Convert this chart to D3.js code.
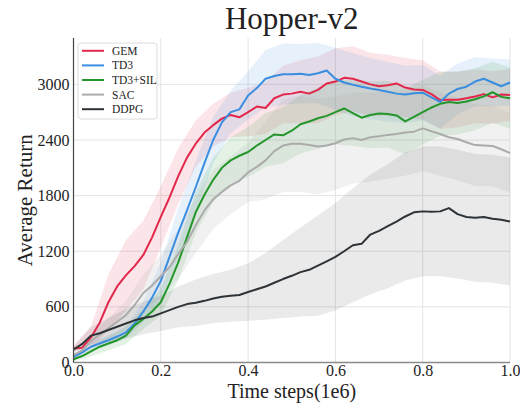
<!DOCTYPE html>
<html>
<head>
<meta charset="utf-8">
<script src="https://cdn.jsdelivr.net/npm/d3@7"></script>
<style>
  body { margin: 0; background: #fff; }
  svg text { font-family: "Liberation Serif", "Times New Roman", serif; fill: #222; }
</style>
</head>
<body>
<svg id="chart" width="520" height="403"></svg>
<script>
// time steps (1e6) of the mean curves
const timeSteps = [0.00, 0.02, 0.04, 0.06, 0.08, 0.10, 0.12, 0.14, 0.16, 0.18,
    0.20, 0.22, 0.24, 0.26, 0.28, 0.30, 0.32, 0.34, 0.36, 0.38,
    0.40, 0.42, 0.44, 0.46, 0.48, 0.50, 0.52, 0.54, 0.56, 0.58,
    0.60, 0.62, 0.64, 0.66, 0.68, 0.70, 0.72, 0.74, 0.76, 0.78,
    0.80, 0.82, 0.84, 0.86, 0.88, 0.90, 0.92, 0.94, 0.96, 0.98, 1.00];

const gem = [150, 160, 270, 430, 650, 820, 940, 1040, 1160, 1350,
    1570, 1780, 2010, 2210, 2360, 2480, 2560, 2630, 2670, 2645,
    2700, 2760, 2745, 2850, 2890, 2900, 2920, 2900, 2940, 3010,
    3030, 3070, 3060, 3030, 3000, 2980, 2990, 3010, 2965, 2945,
    2940, 2895, 2830, 2835, 2835, 2850, 2870, 2895, 2860, 2890, 2885];

const td3 = [60, 110, 170, 205, 240, 280, 325, 420, 550, 700,
    880, 1140, 1400, 1640, 1890, 2150, 2400, 2590, 2700, 2730,
    2880, 2960, 3060, 3090, 3110, 3110, 3115, 3100, 3120, 3150,
    3060, 3020, 2995, 2975, 2955, 2940, 2920, 2900, 2890, 2905,
    2910, 2860, 2810, 2900, 2950, 2975, 3030, 3060, 3020, 2980, 3020];

const td3Sil = [35, 70, 120, 170, 205, 240, 290, 400, 470, 550,
    650, 850, 1080, 1350, 1620, 1810, 1970, 2100, 2180, 2230,
    2270, 2340, 2400, 2460, 2450, 2500, 2570, 2600, 2635, 2660,
    2700, 2740, 2690, 2640, 2670, 2685, 2680, 2665, 2600, 2650,
    2700, 2750, 2790, 2810, 2800, 2815, 2840, 2870, 2915, 2865, 2850];

const sac = [80, 130, 230, 300, 370, 440, 510, 620, 750, 830,
    930, 1030, 1170, 1300, 1480, 1640, 1760, 1840, 1910, 1960,
    2050, 2110, 2180, 2280, 2340, 2360, 2360, 2345, 2330, 2340,
    2365, 2405, 2420, 2400, 2430, 2440, 2455, 2465, 2480, 2490,
    2525, 2495, 2465, 2430, 2410, 2375, 2345, 2340, 2335, 2300, 2260];

const ddpg = [140, 200, 290, 315, 350, 385, 420, 455, 480, 495,
    530, 565, 600, 630, 645, 665, 690, 710, 720, 728,
    760, 790, 820, 860, 900, 935, 975, 1000, 1045, 1090,
    1140, 1200, 1265, 1280, 1380, 1420, 1470, 1520, 1575, 1620,
    1630, 1625, 1630, 1665, 1600, 1570, 1560, 1570, 1550, 1540, 1520];

// spread of the shaded bands, one value per second time step
const gemStd = [30, 120, 300, 380, 370, 330, 300, 250, 230, 240, 260, 280, 310,
    340, 360, 360, 350, 340, 330, 320, 320, 310, 300, 290, 285, 280];
const td3Std = [20, 45, 55, 65, 110, 200, 270, 280, 250, 230, 260, 310, 330,
    320, 325, 335, 340, 330, 320, 310, 300, 285, 275, 265, 255, 250];
const td3SilStd = [20, 55, 75, 90, 110, 140, 190, 220, 240, 250, 270, 290, 300,
    315, 330, 345, 355, 360, 360, 355, 350, 345, 340, 335, 330, 330];
const sacStd = [30, 70, 110, 150, 200, 230, 270, 300, 320, 310, 320, 420, 500,
    520, 515, 505, 490, 480, 470, 465, 460, 450, 445, 440, 435, 430];
const ddpgStd = [30, 90, 130, 160, 175, 190, 220, 250, 265, 280, 310, 360, 420,
    480, 540, 580, 615, 645, 670, 690, 700, 700, 695, 690, 690, 690];

const seriesNames = ['GEM', 'TD3', 'TD3+SIL', 'SAC', 'DDPG'];
const seriesColors = ['#e2274b', '#3a8ee0', '#24962b', '#ababab', '#2e3337'];
const bandOpacity = [0.12, 0.12, 0.12, 0.16, 0.1];
const xTicks = [0.0, 0.2, 0.4, 0.6, 0.8, 1.0];
const yTicks = [0, 600, 1200, 1800, 2400, 3000];

const series = [
    { name: seriesNames[0], mean: gem, std: gemStd },
    { name: seriesNames[1], mean: td3, std: td3Std },
    { name: seriesNames[2], mean: td3Sil, std: td3SilStd },
    { name: seriesNames[3], mean: sac, std: sacStd },
    { name: seriesNames[4], mean: ddpg, std: ddpgStd }
];

const svg = d3.select('#chart');

const x = d3.scaleLinear().domain([0, 1]).range([73.5, 510]);
const y = d3.scaleLinear().domain([0, 3500]).range([362.5, 38]);

// grid
svg.append('g')
    .selectAll('line')
    .data(xTicks)
    .enter()
    .append('line')
    .attr('x1', d => x(d)).attr('x2', d => x(d))
    .attr('y1', y(0)).attr('y2', y(3500))
    .attr('stroke', '#e3e3e3');

svg.append('g')
    .selectAll('line')
    .data(yTicks)
    .enter()
    .append('line')
    .attr('x1', x(0)).attr('x2', x(1))
    .attr('y1', d => y(d)).attr('y2', d => y(d))
    .attr('stroke', '#e3e3e3');

const plot = svg.append('g');

let line = d3.line()
    .x((d, i) => x(timeSteps[i]))
    .y(d => y(d));

let band = d3.area()
    .x(d => x(d.t))
    .y0(d => y(d.lo))
    .y1(d => y(d.hi));

function bandPoints(s) {
    return s.std.map((sd, k) => {
        let m = s.mean[k * 2];
        return { t: timeSteps[k * 2], lo: m - sd, hi: m + sd };
    });
}

// shaded bands
plot.selectAll('.band')
    .data(series)
    .enter()
    .append('path')
    .attr('class', 'band')
    .attr('d', s => band(bandPoints(s)))
    .attr('fill', (s, i) => seriesColors[i])
    .attr('fill-opacity', (s, i) => bandOpacity[i]);

// mean curves
plot.selectAll('.curve')
    .data(series)
    .enter()
    .append('path')
    .attr('class', 'curve')
    .attr('d', s => line(s.mean))
    .attr('fill', 'none')
    .attr('stroke', (s, i) => seriesColors[i])
    .attr('stroke-width', 2)
    .attr('stroke-linejoin', 'round');

// axes
let yAxis = svg.append('g')
    .attr('transform', `translate(${x(0)},0)`)
    .call(d3.axisLeft(y).tickValues(yTicks).tickSize(0).tickPadding(4).tickFormat(d3.format('d')));

yAxis.select('.domain').remove();
yAxis.selectAll('text')
    .style('font-size', '16px')
    .style('font-family', '"Liberation Serif", "Times New Roman", serif')
    .attr('fill', '#222');

let xAxis = svg.append('g')
    .attr('transform', `translate(0,${y(0)})`)
    .call(d3.axisBottom(x).tickValues(xTicks).tickSize(0).tickPadding(2).tickFormat(d3.format('.1f')));

xAxis.select('.domain').remove();
xAxis.selectAll('text')
    .style('font-size', '16px')
    .style('font-family', '"Liberation Serif", "Times New Roman", serif')
    .attr('fill', '#222');

svg.append('line')
    .attr('x1', x(0)).attr('x2', x(1))
    .attr('y1', y(0)).attr('y2', y(0))
    .attr('stroke', '#8a8a8a')
    .attr('stroke-width', 1.6);

svg.append('line')
    .attr('x1', x(0)).attr('x2', x(0))
    .attr('y1', y(0)).attr('y2', y(3500))
    .attr('stroke', '#444')
    .attr('stroke-width', 1.2);

// titles
svg.append('text')
    .attr('x', (x(0) + x(1)) / 2)
    .attr('y', 29)
    .attr('text-anchor', 'middle')
    .style('font-size', '31px')
    .text('Hopper-v2');

svg.append('text')
    .attr('x', (x(0) + x(1)) / 2)
    .attr('y', 398)
    .attr('text-anchor', 'middle')
    .style('font-size', '20px')
    .text('Time steps(1e6)');

svg.append('text')
    .attr('transform', `translate(32,${(y(0) + y(3500)) / 2}) rotate(-90)`)
    .attr('text-anchor', 'middle')
    .style('font-size', '21px')
    .text('Average Return');

// legend
let legend = svg.append('g');

legend.append('rect')
    .attr('x', 78).attr('y', 43)
    .attr('width', 79).attr('height', 76)
    .attr('rx', 3)
    .attr('fill', '#fff')
    .attr('fill-opacity', 0.85)
    .attr('stroke', '#dcdcdc');

let items = legend.selectAll('.item')
    .data(seriesNames)
    .enter()
    .append('g')
    .attr('class', 'item')
    .attr('transform', (d, i) => `translate(0,${50.8 + i * 14.6})`);

items.append('line')
    .attr('x1', 82).attr('x2', 104)
    .attr('stroke', (d, i) => seriesColors[i])
    .attr('stroke-width', 2);

items.append('text')
    .attr('x', 112)
    .attr('y', 4)
    .style('font-size', '11.5px')
    .text(d => d);
</script>
</body>
</html>
